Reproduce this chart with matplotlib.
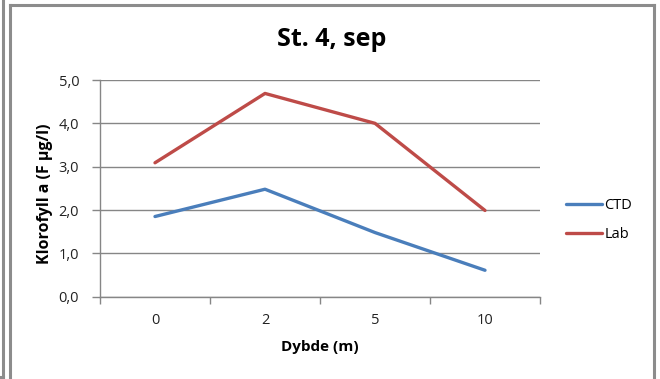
import matplotlib
matplotlib.use("Agg")
import matplotlib.pyplot as plt
from matplotlib.lines import Line2D
import numpy as np

categories = ["0", "2", "5", "10"]
ctd = [1.85, 2.48, 1.48, 0.61]
lab = [3.09, 4.69, 4.00, 1.99]
yticks = [0.0, 1.0, 2.0, 3.0, 4.0, 5.0]
ytick_labels = ["0,0", "1,0", "2,0", "3,0", "4,0", "5,0"]

plt.rcParams['font.family'] = ['Open Sans', 'DejaVu Sans']

W, H = 660, 379
fig = plt.figure(figsize=(W/100, H/100), dpi=100)
fig.patch.set_facecolor("white")

def fx(px): return px / W
def fy(py): return 1 - py / H

border = "#8c8c8c"
# frame lines
fig.add_artist(Line2D([fx(10.5), fx(10.5)], [fy(4.7), fy(379)], color=border, lw=2.2))
fig.add_artist(Line2D([fx(10.5), fx(653.5)], [fy(4.7), fy(4.7)], color=border, lw=2.2))
fig.add_artist(Line2D([fx(653.5), fx(653.5)], [fy(4.7), fy(379)], color=border, lw=2.2))
fig.add_artist(Line2D([fx(3.2), fx(3.2)], [fy(0), fy(377)], color=border, lw=2.2))
fig.add_artist(Line2D([fx(0), fx(3.2)], [fy(377), fy(377)], color=border, lw=2.2))

left, right, top, bottom = 100, 540, 80, 296.7
ax = fig.add_axes([fx(left), fy(bottom), fx(right - left), (bottom - top) / H])
x = np.arange(len(categories))
l1, = ax.plot(x, ctd, color="#4A7EBB", lw=2.4, solid_capstyle="round", label="CTD")
l2, = ax.plot(x, lab, color="#BE4B48", lw=2.4, solid_capstyle="round", label="Lab")

ax.set_xlim(-0.5, len(categories) - 0.5)
ax.set_ylim(0, 5)
ax.set_yticks(yticks)
ax.set_yticklabels(ytick_labels)
ax.set_xticks(x)
ax.set_xticklabels(categories)
ax.set_xticks(np.arange(len(categories) + 1) - 0.5, minor=True)
ax.tick_params(axis="x", which="major", length=0, pad=12, labelsize=10.5)
ax.tick_params(axis="x", which="minor", length=5, width=1, color="#868686", direction="out")
ax.tick_params(axis="y", length=6, width=1, color="#868686", pad=9, labelsize=10.5)
for lbl in ax.get_yticklabels() + ax.get_xticklabels():
    lbl.set_color("#222222")
ax.yaxis.grid(True, color="#868686", lw=1)
ax.set_axisbelow(True)
for s in ["top", "right"]:
    ax.spines[s].set_visible(False)
for s in ["left", "bottom"]:
    ax.spines[s].set_color("#868686")
    ax.spines[s].set_linewidth(1)

ax.set_xlabel("Dybde (m)", fontsize=11, fontweight="bold", va="center")
ax.xaxis.set_label_coords((320 - left) / (right - left), (bottom - 347) / (bottom - top), transform=ax.transAxes)
ax.set_ylabel("Klorofyll a (F µg/l)", fontsize=11.5, fontweight="bold", va="center")
ax.yaxis.set_label_coords((45 - left) / (right - left), (bottom - 194) / (bottom - top), transform=ax.transAxes)

fig.text(fx(332), fy(40), "St. 4, sep", ha="center", va="center", fontsize=18, fontweight="bold")

leg = fig.legend(handles=[l1, l2], loc="center left", bbox_to_anchor=(fx(560), fy(220)),
                 frameon=False, fontsize=10.5, handlelength=2.5, handletextpad=0.15,
                 labelspacing=0.95, borderaxespad=0)

fig.savefig("out.png", dpi=100, facecolor="white")
